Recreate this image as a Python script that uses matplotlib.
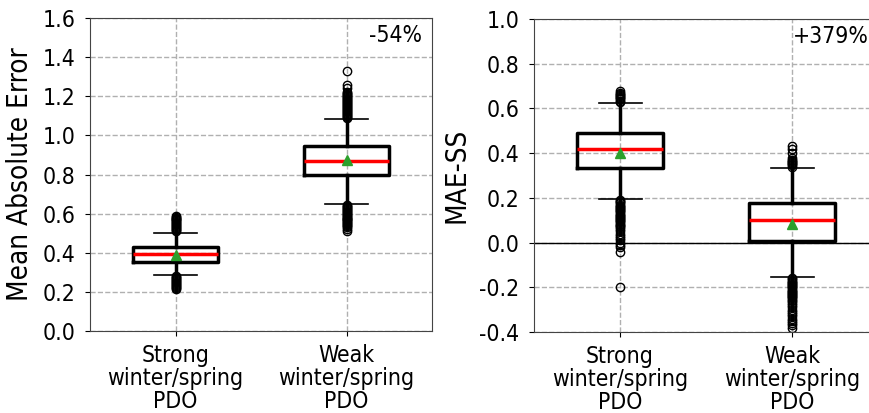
import matplotlib
matplotlib.use("Agg")
import matplotlib.pyplot as plt

plt.rcParams['axes.unicode_minus'] = False
plt.rcParams['font.family'] = ['DejaVu Sans']
plt.rcParams['font.stretch'] = 'condensed'

categories = ["Strong\nwinter/spring\nPDO", "Weak\nwinter/spring\nPDO"]

# Panel 1: Mean Absolute Error
mae_q1 = [0.352, 0.795]
mae_med = [0.393, 0.868]
mae_q3 = [0.430, 0.946]
mae_mean = [0.390, 0.872]
mae_wlo = [0.286, 0.650]
mae_whi = [0.503, 1.085]
mae_fliers_strong = [0.51, 0.515, 0.52, 0.525, 0.53, 0.535, 0.54, 0.545, 0.55, 0.555,
                     0.56, 0.565, 0.57, 0.575, 0.58, 0.585, 0.59,
                     0.28, 0.275, 0.27, 0.265, 0.26, 0.255, 0.25, 0.245, 0.24,
                     0.235, 0.23, 0.225, 0.22, 0.215]
mae_fliers_weak = [1.09, 1.095, 1.10, 1.105, 1.11, 1.115, 1.12, 1.125, 1.13, 1.135,
                   1.14, 1.145, 1.15, 1.155, 1.16, 1.165, 1.17, 1.175, 1.18, 1.185,
                   1.19, 1.195, 1.20, 1.205, 1.21, 1.215, 1.22, 1.24, 1.26, 1.33,
                   0.645, 0.64, 0.635, 0.63, 0.625, 0.62, 0.615, 0.61, 0.605, 0.60,
                   0.595, 0.59, 0.585, 0.58, 0.575, 0.57, 0.565, 0.56, 0.555, 0.55,
                   0.545, 0.54, 0.535, 0.53, 0.52, 0.51]

# Panel 2: MAE skill score
ss_q1 = [0.334, 0.007]
ss_med = [0.418, 0.100]
ss_q3 = [0.490, 0.177]
ss_mean = [0.402, 0.085]
ss_wlo = [0.195, -0.153]
ss_whi = [0.625, 0.335]
ss_fliers_strong = [0.63, 0.635, 0.64, 0.645, 0.65, 0.655, 0.66, 0.665, 0.67, 0.68,
                    0.19, 0.185, 0.18, 0.175, 0.17, 0.165, 0.16, 0.155, 0.15, 0.145,
                    0.14, 0.135, 0.13, 0.125, 0.12, 0.115, 0.11, 0.105, 0.10, 0.095,
                    0.09, 0.085, 0.08, 0.075, 0.07, 0.06, 0.05, 0.04, 0.03, 0.02,
                    0.01, 0.0, -0.01, -0.02, -0.04, -0.2]
ss_fliers_weak = [0.34, 0.345, 0.35, 0.355, 0.36, 0.365, 0.37, 0.38, 0.40, 0.42, 0.43,
                  -0.16, -0.165, -0.17, -0.175, -0.18, -0.185, -0.19, -0.195, -0.20,
                  -0.205, -0.21, -0.215, -0.22, -0.225, -0.23, -0.235, -0.24, -0.245,
                  -0.25, -0.255, -0.26, -0.27, -0.28, -0.29, -0.30, -0.31, -0.32,
                  -0.33, -0.34, -0.35, -0.36, -0.37, -0.38]

mae_ticks = [0.0, 0.2, 0.4, 0.6, 0.8, 1.0, 1.2, 1.4, 1.6]
ss_ticks = [-0.4, -0.2, 0.0, 0.2, 0.4, 0.6, 0.8, 1.0]


def make_stats(q1, med, q3, mean, wlo, whi, fliers):
    out = []
    for i in range(len(q1)):
        out.append(dict(q1=q1[i], med=med[i], q3=q3[i], mean=mean[i],
                        whislo=wlo[i], whishi=whi[i], fliers=fliers[i]))
    return out


fig = plt.figure(figsize=(8.69, 4.13), dpi=100)
ax1 = fig.add_axes([90/869, 1-331/413, (432-90)/869, (331-18)/413])
ax2 = fig.add_axes([534/869, 1-332/413, (878-534)/869, (332-19)/413])

box_kw = dict(
    positions=[1, 2], widths=0.5, showmeans=True,
    boxprops=dict(color='black', linewidth=2.5),
    whiskerprops=dict(color='black', linewidth=2.5),
    capprops=dict(color='black', linewidth=1.2),
    medianprops=dict(color='red', linewidth=2.5),
    meanprops=dict(marker='^', markerfacecolor='#2ca02c', markeredgecolor='#2ca02c', markersize=7),
    flierprops=dict(marker='o', markerfacecolor='none', markeredgecolor='black', markersize=6, markeredgewidth=1.0),
)

stats1 = make_stats(mae_q1, mae_med, mae_q3, mae_mean, mae_wlo, mae_whi,
                    [mae_fliers_strong, mae_fliers_weak])
stats2 = make_stats(ss_q1, ss_med, ss_q3, ss_mean, ss_wlo, ss_whi,
                    [ss_fliers_strong, ss_fliers_weak])

ax1.bxp(stats1, **box_kw)
ax2.bxp(stats2, **box_kw)

for ax, ticks, lab, txt, tx, ha in [(ax1, mae_ticks, 'Mean Absolute Error', '-54%', 0.97, 'right'),
                                    (ax2, ss_ticks, 'MAE-SS', '+379%', 0.753, 'left')]:
    ax.set_xlim(0.5, 2.5)
    ax.set_ylim(ticks[0], ticks[-1])
    ax.set_yticks(ticks)
    ax.set_yticklabels(['%.1f' % t for t in ticks], fontsize=16.5)
    ax.set_xticks([1, 2])
    ax.set_xticklabels(categories, fontsize=16.5, linespacing=1.0)
    ax.tick_params(axis='y', pad=7)
    ax.tick_params(axis='x', pad=6)
    ax.set_ylabel(lab, fontsize=20, labelpad=6)
    ax.grid(True, linestyle='--', color='#b0b0b0', linewidth=1.0)
    ax.set_axisbelow(True)
    for s in ax.spines.values():
        s.set_color('#444444')
    ax.text(tx, 0.98, txt, transform=ax.transAxes, ha=ha, va='top', fontsize=16.5)

ax2.axhline(0.0, color='black', linewidth=1.0, zorder=1)

fig.savefig('out.png', dpi=100)
